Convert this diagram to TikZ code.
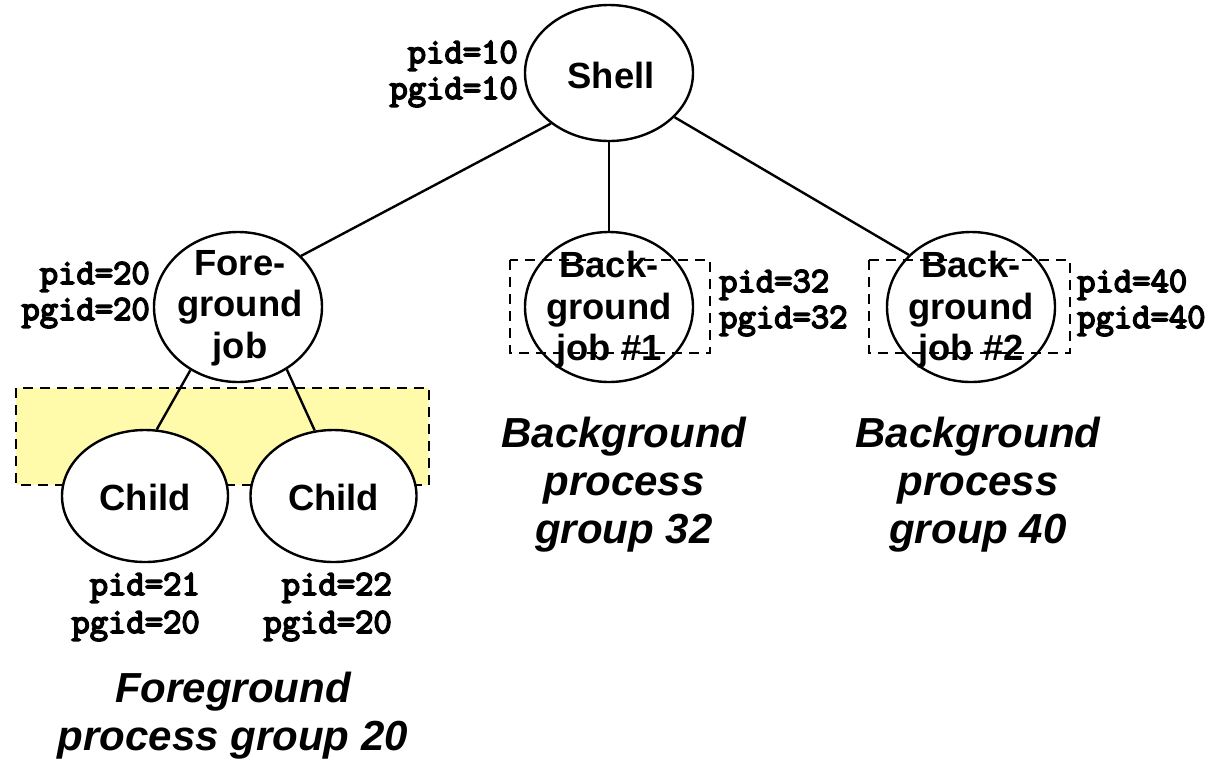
\documentclass[tikz,border=0pt]{standalone}
\usepackage{fontspec}
\setmainfont{Liberation Sans}
\newfontfamily\idfont{Latin Modern Mono}[FakeBold=4.5]
\usetikzlibrary{shapes.geometric}
\definecolor{grpfill}{RGB}{255,251,170}
\tikzset{
  proc/.style={shape=ellipse, draw, line width=2.4pt, inner sep=0pt,
    minimum width=168pt},
  proctext/.style={align=center, inner sep=0pt,
    font=\fontsize{36.4}{41.5}\selectfont\bfseries},
  ids/.style={inner sep=0pt, font=\fontsize{35.6}{36}\selectfont\idfont},
  grouplabel/.style={align=center, inner sep=0pt,
    font=\fontsize{42}{48}\selectfont\bfseries\itshape},
  groupbox/.style={draw, line width=2.2pt, dash pattern=on 10pt off 7pt},
  edge/.style={line width=2.4pt}
}
\begin{document}
\begin{tikzpicture}[x=1pt, y=-1pt]
\useasboundingbox (0,0) rectangle (1214,764);

% process-group frames (drawn first, below the processes)
\path[groupbox, fill=grpfill] (16,388) rectangle (429,485);
\path[groupbox] (510,260) rectangle (710,353);
\path[groupbox] (869,260) rectangle (1070,353);

% processes
\node[proc, minimum height=136pt, label={[proctext, xshift=2pt, yshift=-2pt]center:Shell}] (shell) at (609,73) {};
\node[proc, minimum height=150pt, label={[proctext, xshift=2pt, yshift=-1pt]center:Fore-\\ground\\job}] (fg) at (238,307) {};
\node[proc, minimum height=150pt, label={[proctext, yshift=-3pt]center:Back-\\ground\\job \#1}] (bg1) at (609,307) {};
\node[proc, minimum height=150pt, label={[proctext, yshift=-3pt]center:Back-\\ground\\job \#2}] (bg2) at (971,307) {};
\node[proc, fill=white, minimum width=166pt, minimum height=132pt, label={[proctext, yshift=-1pt]center:Child}] (c1) at (145,496) {};
\node[proc, fill=white, minimum width=166pt, minimum height=132pt, label={[proctext, yshift=-1pt]center:Child}] (c2) at (333.5,496) {};

% parent/child links
\draw[edge] (shell.-139.7) -- (fg.39);
\draw[edge] (shell.south) -- (bg1.north);
\draw[edge] (shell.-34) -- (bg2.140.5);
\draw[edge] (fg.-127.6) -- (c1.80);
\draw[edge] (fg.-52) -- (c2.106);

% process ids (anchored at the baseline of the second line)
\node[ids, align=right, anchor=base east] (id10) at (518,99) {pid=10\\pgid=10};
\node[ids, align=right, anchor=base east] (id20) at (150,320) {pid=20\\pgid=20};
\node[ids, align=left, anchor=base west] (id32) at (719,328) {pid=32\\pgid=32};
\node[ids, align=left, anchor=base west] (id40) at (1077,328) {pid=40\\pgid=40};
\node[ids, align=right, anchor=base east, font=\fontsize{35.6}{38}\selectfont\idfont] (id21) at (200,633) {pid=21\\pgid=20};
\node[ids, align=right, anchor=base east, font=\fontsize{35.6}{38}\selectfont\idfont] (id22) at (392,633) {pid=22\\pgid=20};

% group captions (anchored at the baseline of the last line)
\node[grouplabel, anchor=base] (g20) at (233,750) {Foreground\\process group 20};
\node[grouplabel, anchor=base] (g32) at (624,543) {Background\\process\\group 32};
\node[grouplabel, anchor=base] (g40) at (978,543) {Background\\process\\group 40};
\end{tikzpicture}
\end{document}
